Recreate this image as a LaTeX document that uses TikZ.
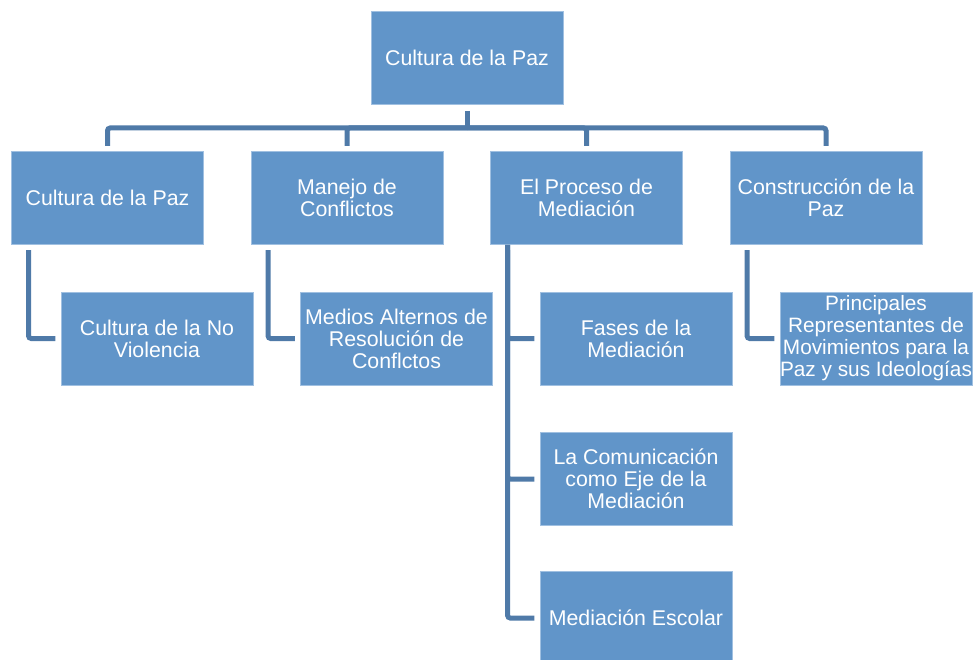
\documentclass[tikz,border=0pt]{standalone}
\usepackage{fontspec}
\setmainfont{Liberation Sans}
\definecolor{boxfill}{RGB}{97,149,201}
\definecolor{boxedge}{RGB}{160,192,225}
\definecolor{connc}{RGB}{79,122,168}
\begin{document}
\begin{tikzpicture}[x=0.75pt,y=-0.75pt,
  box/.style={rectangle, fill=boxfill, draw=boxedge, line width=0.4pt,
    minimum width=144pt, minimum height=69.75pt, inner sep=0pt,
    align=center, text=white, font=\fontsize{16}{16.5}\selectfont},
  conn/.style={draw=connc, line width=3.75pt, rounded corners=2pt}]
\useasboundingbox (0,0) rectangle (976,660);
\clip (0,0) rectangle (976,660);
% top
\node[box] (top) at (467,57.5) {Cultura de la Paz};
% level 2
\node[box] (b1) at (107.5,198) {Cultura de la Paz};
\node[box] (b2) at (347,198) {Manejo de\\Conflictos};
\node[box] (b3) at (586.5,198) {El Proceso de\\Mediación};
\node[box] (b4) at (826,198) {Construcción de la\\Paz};
% level 3
\node[box] (c1) at (157,338.5) {Cultura de la No\\Violencia};
\node[box] (c2) at (396.5,338.5) {Medios Alternos de\\Resolución de\\Conflctos};
\node[box] (c3a) at (636,338.5) {Fases de la\\Mediación};
\node[box] (c3b) at (636,479) {La Comunicación\\como Eje de la\\Mediación};
\node[box] (c3c) at (636,618) {Mediación Escolar};
\node[box, font=\fontsize{15.6}{16.5}\selectfont] (c4) at (876,338.5) {Principales\\Representantes de\\Movimientos para la\\Paz y sus Ideologías};
% connectors top
\coordinate (bar) at (467,128);
\draw[conn, shorten <=5pt] (top.south) -- (bar);
\draw[conn, shorten <=4pt, shorten >=4pt] (b1.north) |- (bar) -| (b4.north);
\draw[conn, shorten <=4pt] (b2.north) |- (bar);
\draw[conn, shorten <=4pt] (b3.north) |- (bar);
% connectors level 3
\draw[conn, shorten <=4pt, shorten >=4pt] ([xshift=13pt]b1.south west) |- (c1.west);
\draw[conn, shorten <=4pt, shorten >=4pt] ([xshift=13pt]b2.south west) |- (c2.west);
\draw[conn, shorten <=4pt, shorten >=4pt] ([xshift=13pt]b3.south west) |- (c3c.west);
\draw[conn, shorten >=4pt] ([xshift=13pt]b3.south west) |- (c3a.west);
\draw[conn, shorten >=4pt] ([xshift=13pt]b3.south west) |- (c3b.west);
\draw[conn, shorten <=4pt, shorten >=4pt] ([xshift=13pt]b4.south west) |- (c4.west);
\end{tikzpicture}
\end{document}
